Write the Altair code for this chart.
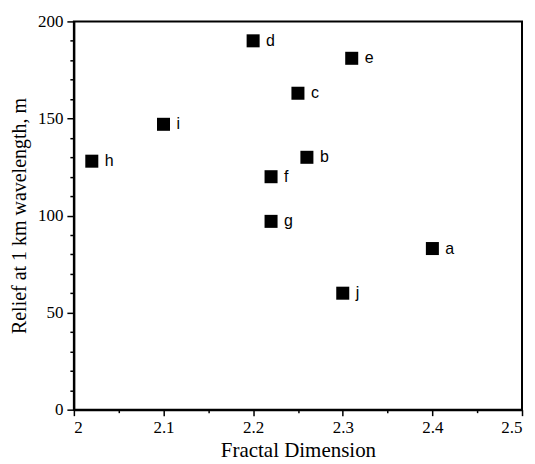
import altair as alt
import pandas as pd

labels = ["a", "b", "c", "d", "e", "f", "g", "h", "i", "j"]
fractal_dim = [2.40, 2.26, 2.25, 2.20, 2.31, 2.22, 2.22, 2.02, 2.10, 2.30]
relief = [83, 130, 163, 190, 181, 120, 97, 128, 147, 60]

x_major = [2.0, 2.1, 2.2, 2.3, 2.4, 2.5]
x_minor = [2.05, 2.15, 2.25, 2.35, 2.45]
y_major = [0, 50, 100, 150, 200]
y_minor = [10, 20, 30, 40, 60, 70, 80, 90, 110, 120, 130, 140, 160, 170, 180, 190]

df = pd.DataFrame({"label": labels, "x": fractal_dim, "y": relief})

SERIF = "Liberation Serif"
SANS = "Liberation Sans"

xscale = alt.Scale(domain=[2.0, 2.5], nice=False, zero=False)
yscale = alt.Scale(domain=[0, 200], nice=False)

major_x = alt.Axis(values=x_major, orient="bottom", title="Fractal Dimension",
                   format="~g", tickSize=6, tickWidth=1.5, domainWidth=2,
                   labelFont=SERIF, labelFontSize=17, titleFont=SERIF,
                   titleFontSize=21, titleFontWeight="normal", labelPadding=4,
                   titlePadding=4, grid=False, domainColor="black",
                   tickColor="black", labelColor="black", titleColor="black")
major_y = alt.Axis(values=y_major, orient="left", title="Relief at 1 km wavelength, m",
                   tickSize=7, tickWidth=1.5, domainWidth=2,
                   labelFont=SERIF, labelFontSize=17, titleFont=SERIF,
                   titleFontSize=20, titleFontWeight="normal", labelPadding=4,
                   titlePadding=8, grid=False, domainColor="black",
                   tickColor="black", labelColor="black", titleColor="black")
minor_x = alt.Axis(values=x_minor, orient="bottom", title=None, labels=False,
                   domain=False, tickSize=3, tickWidth=1.5, grid=False,
                   tickColor="black")
minor_y = alt.Axis(values=y_minor, orient="left", title=None, labels=False,
                   domain=False, tickSize=4, tickWidth=1.5, grid=False,
                   tickColor="black")

base = alt.Chart(df)

pts = base.mark_square(size=170, color="black", opacity=1).encode(
    x=alt.X("x:Q", scale=xscale, axis=major_x),
    y=alt.Y("y:Q", scale=yscale, axis=major_y),
)
txt = base.mark_text(align="left", baseline="middle", dx=13, dy=0,
                     font=SANS, fontSize=16, color="black").encode(
    x=alt.X("x:Q", scale=xscale, axis=None),
    y=alt.Y("y:Q", scale=yscale, axis=None),
    text="label:N",
)
minor = base.mark_point(opacity=0).encode(
    x=alt.X("x:Q", scale=xscale, axis=minor_x),
    y=alt.Y("y:Q", scale=yscale, axis=minor_y),
)

chart = alt.layer(pts, txt, minor).resolve_axis(
    x="independent", y="independent"
).properties(
    width=449, height=389,
    padding={"left": 1, "top": 4, "right": 4, "bottom": 2},
).configure_view(stroke="black", strokeWidth=2)

chart.save("out.html", embed_options={"renderer": "svg", "actions": False})
